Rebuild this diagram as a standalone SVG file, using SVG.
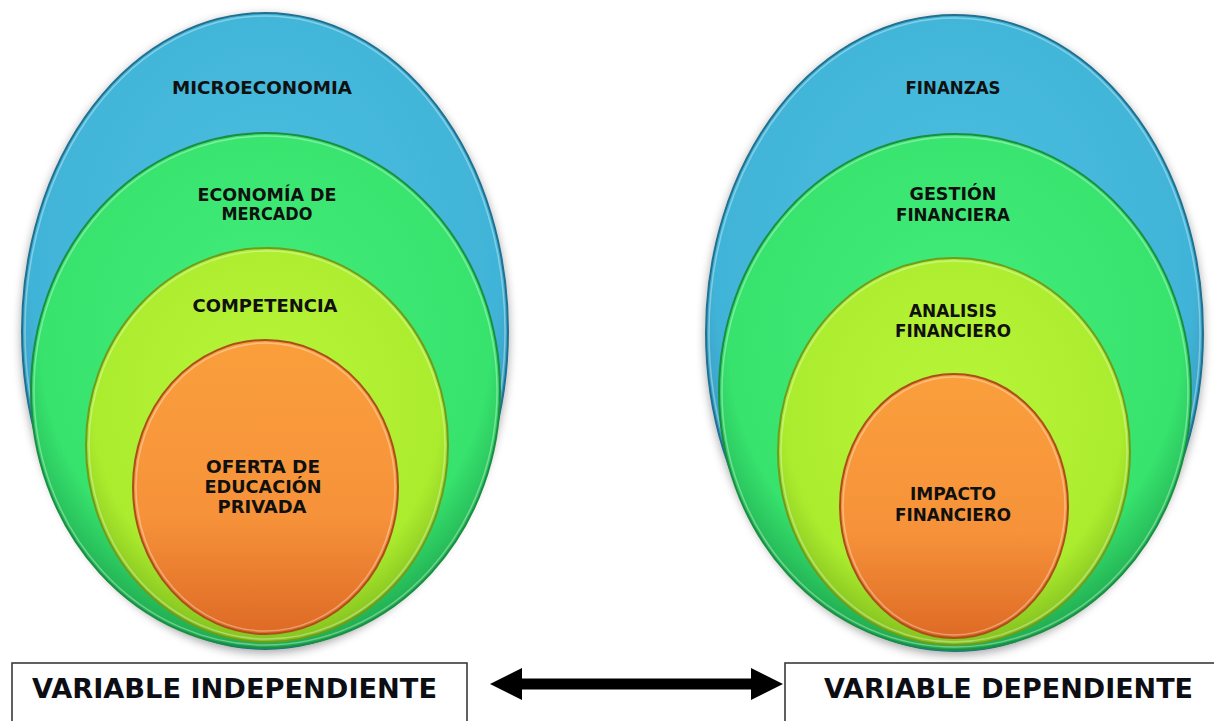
<svg xmlns="http://www.w3.org/2000/svg" width="1214" height="721" viewBox="0 0 1214 721">
  <style>
    .lbl { font-family: "DejaVu Sans", "Verdana", sans-serif; font-weight: bold; font-size: 17px; fill: #101010; text-anchor: middle; }
    .var { font-family: "DejaVu Sans", "Verdana", sans-serif; font-weight: bold; font-size: 26px; fill: #0d0d14; }
    .box { fill: #ffffff; stroke: #3a3a3a; stroke-width: 1.6; }
    .rim { fill: none; stroke: #ffffff; stroke-opacity: 0.35; stroke-width: 1.5; }
    .blue { fill: url(#gBlue); stroke: #22708f; stroke-width: 2; }
    .green { fill: url(#gGreen); stroke: #1a8e42; stroke-width: 2; }
    .lime { fill: url(#gLime); stroke: #6f9c1c; stroke-width: 2; }
    .orange { fill: url(#gOrange); stroke: #a9501a; stroke-width: 2; }
    .shaft { stroke: #000000; stroke-width: 11; fill: none; }
  </style>
  <defs>
    <radialGradient id="gBlue" cx="50%" cy="40%" r="60%">
      <stop offset="0" stop-color="#4ac0e0"/>
      <stop offset="0.8" stop-color="#41b4d8"/>
      <stop offset="1" stop-color="#2b88ad"/>
    </radialGradient>
    <radialGradient id="gGreen" cx="50%" cy="40%" r="60%">
      <stop offset="0" stop-color="#42ef7a"/>
      <stop offset="0.8" stop-color="#37e26d"/>
      <stop offset="1" stop-color="#1faa50"/>
    </radialGradient>
    <radialGradient id="gLime" cx="50%" cy="40%" r="60%">
      <stop offset="0" stop-color="#b8f53a"/>
      <stop offset="0.8" stop-color="#acec2e"/>
      <stop offset="1" stop-color="#84c21f"/>
    </radialGradient>
    <linearGradient id="gOrange" x1="0" y1="0" x2="0" y2="1">
      <stop offset="0" stop-color="#fa9f3c"/>
      <stop offset="0.6" stop-color="#f6923a"/>
      <stop offset="1" stop-color="#de6a25"/>
    </linearGradient>
    <filter id="shadow" x="-10%" y="-10%" width="120%" height="120%">
      <feDropShadow dx="0" dy="3" stdDeviation="5" flood-color="#000000" flood-opacity="0.35"/>
    </filter>
    <marker id="head" viewBox="0 0 32 32" markerWidth="32" markerHeight="32" refX="1" refY="16" markerUnits="userSpaceOnUse" orient="auto-start-reverse">
      <path d="M0,0 L32,16 L0,32 z" fill="#000000"/>
    </marker>
  </defs>

  <!-- Left diagram -->
  <g id="node-microeconomia">
    <ellipse class="blue" cx="265" cy="331" rx="243" ry="318" filter="url(#shadow)"/>
    <ellipse class="rim" cx="265" cy="331" rx="240" ry="315"/>
    <text class="lbl" x="262" y="94" textLength="180" lengthAdjust="spacingAndGlyphs">MICROECONOMIA</text>
  </g>
  <g id="node-economia-mercado">
    <ellipse class="green" cx="265.5" cy="390.5" rx="234.5" ry="257.5"/>
    <ellipse class="rim" cx="265.5" cy="390.5" rx="231.5" ry="254.5"/>
    <text class="lbl" x="267" y="201" textLength="139" lengthAdjust="spacingAndGlyphs">ECONOMÍA DE</text>
    <text class="lbl" x="267" y="220" textLength="91" lengthAdjust="spacingAndGlyphs">MERCADO</text>
  </g>
  <g id="node-competencia">
    <ellipse class="lime" cx="267" cy="445" rx="181" ry="197"/>
    <ellipse class="rim" cx="267" cy="445" rx="178" ry="194"/>
    <text class="lbl" x="265" y="312" textLength="145" lengthAdjust="spacingAndGlyphs">COMPETENCIA</text>
  </g>
  <g id="node-oferta-educacion">
    <ellipse class="orange" cx="265.5" cy="487" rx="132.5" ry="147"/>
    <ellipse class="rim" cx="265.5" cy="487" rx="129.5" ry="144"/>
    <text class="lbl" x="263" y="473" textLength="114" lengthAdjust="spacingAndGlyphs">OFERTA DE</text>
    <text class="lbl" x="263" y="493" textLength="117" lengthAdjust="spacingAndGlyphs">EDUCACIÓN</text>
    <text class="lbl" x="262" y="513" textLength="89" lengthAdjust="spacingAndGlyphs">PRIVADA</text>
  </g>

  <!-- Right diagram -->
  <g id="node-finanzas">
    <ellipse class="blue" cx="954.5" cy="333" rx="248.5" ry="318" filter="url(#shadow)"/>
    <ellipse class="rim" cx="954.5" cy="333" rx="245.5" ry="315"/>
    <text class="lbl" x="953" y="94" textLength="95" lengthAdjust="spacingAndGlyphs">FINANZAS</text>
  </g>
  <g id="node-gestion-financiera">
    <ellipse class="green" cx="955" cy="392" rx="236" ry="258"/>
    <ellipse class="rim" cx="955" cy="392" rx="233" ry="255"/>
    <text class="lbl" x="953" y="200" textLength="87" lengthAdjust="spacingAndGlyphs">GESTIÓN</text>
    <text class="lbl" x="953" y="221" textLength="114" lengthAdjust="spacingAndGlyphs">FINANCIERA</text>
  </g>
  <g id="node-analisis-financiero">
    <ellipse class="lime" cx="954" cy="451.5" rx="176" ry="193.5"/>
    <ellipse class="rim" cx="954" cy="451.5" rx="173" ry="190.5"/>
    <text class="lbl" x="953" y="317" textLength="88" lengthAdjust="spacingAndGlyphs">ANALISIS</text>
    <text class="lbl" x="953" y="337" textLength="116" lengthAdjust="spacingAndGlyphs">FINANCIERO</text>
  </g>
  <g id="node-impacto-financiero">
    <ellipse class="orange" cx="954" cy="506" rx="114" ry="132"/>
    <ellipse class="rim" cx="954" cy="506" rx="111" ry="129"/>
    <text class="lbl" x="953" y="500" textLength="86" lengthAdjust="spacingAndGlyphs">IMPACTO</text>
    <text class="lbl" x="953" y="521" textLength="116" lengthAdjust="spacingAndGlyphs">FINANCIERO</text>
  </g>

  <!-- Variable boxes -->
  <g id="node-variable-independiente">
    <rect class="box" x="12" y="663" width="455" height="80"/>
    <text class="var" x="32" y="698" textLength="405" lengthAdjust="spacingAndGlyphs">VARIABLE INDEPENDIENTE</text>
  </g>
  <g id="node-variable-dependiente">
    <rect class="box" x="785" y="663" width="460" height="80"/>
    <text class="var" x="824" y="698" textLength="369" lengthAdjust="spacingAndGlyphs">VARIABLE DEPENDIENTE</text>
  </g>

  <!-- Connectors -->
  <g id="connectors">
    <line class="shaft" x1="521" y1="684" x2="752" y2="684" marker-start="url(#head)" marker-end="url(#head)"/>
  </g>
</svg>
